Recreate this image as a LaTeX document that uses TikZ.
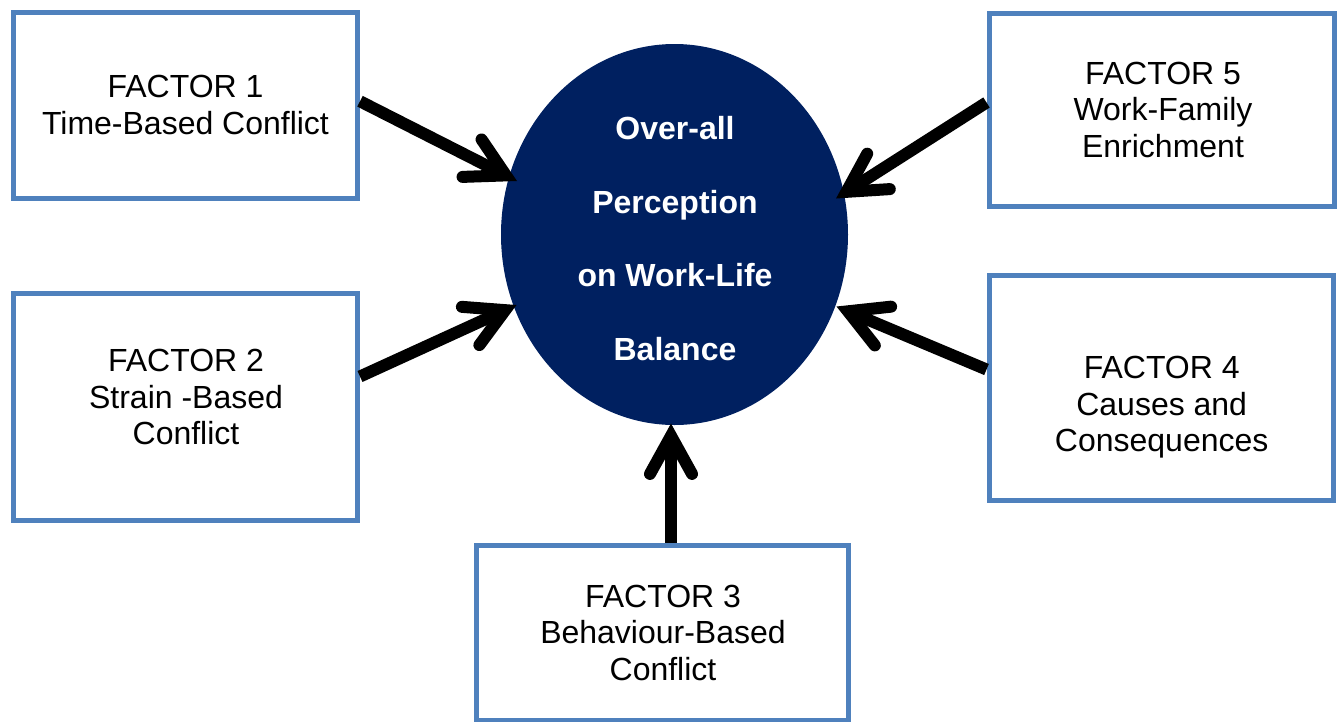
\documentclass[tikz,border=0pt]{standalone}
\usepackage{fontspec}
\setmainfont{Liberation Sans}
\usetikzlibrary{arrows.meta,calc,shapes.geometric}

\definecolor{boxblue}{RGB}{79,129,189}
\definecolor{navy}{RGB}{0,32,96}

\tikzset{
  factorbox/.style={draw=boxblue, line width=5pt, fill=white, rectangle, inner sep=0pt},
  factortext/.style={anchor=north, align=center, inner sep=0pt,
    font=\fontsize{32}{36.5}\selectfont},
  centretext/.style={anchor=north, align=center, inner sep=0pt, text=white,
    font=\fontsize{32}{73.5}\selectfont\bfseries},
  influence/.style={line width=12pt, black,
    -{Straight Barb[length=38pt, width=42pt, line cap=round, line join=miter]}}
}

\begin{document}
\begin{tikzpicture}[x=1pt, y=-1pt]
  \useasboundingbox (0,0) rectangle (1342,721);

  % factor boxes
  \node[factorbox, minimum width=344.5pt, minimum height=185.5pt] (f1) at (185.25,105.25) {};
  \node[factorbox, minimum width=344.5pt, minimum height=227pt] (f2) at (185.25,406.5) {};
  \node[factorbox, minimum width=372pt, minimum height=175pt] (f3) at (662.5,632.5) {};
  \node[factorbox, minimum width=344pt, minimum height=225pt] (f4) at (1161,387.5) {};
  \node[factorbox, minimum width=345pt, minimum height=193pt] (f5) at (1161.5,109.5) {};

  % box texts
  \node[factortext] (t1) at (185.5,75) {FACTOR 1\\Time-Based Conflict};
  \node[factortext] (t2) at (186,349) {FACTOR 2\\Strain -Based\\Conflict};
  \node[factortext] (t3) at (663,584.7) {FACTOR 3\\Behaviour-Based\\Conflict};
  \node[factortext] (t4) at (1161.7,356.3) {FACTOR 4\\Causes and\\Consequences};
  \node[factortext] (t5) at (1163,61.5) {FACTOR 5\\Work-Family\\Enrichment};

  % central ellipse
  \node[ellipse, fill=navy, inner sep=0pt, minimum width=347pt, minimum height=381pt] (ov) at (674.5,234.5) {};
  \node[centretext] (tc) at (675,116.5) {Over-all\\Perception\\on Work-Life\\Balance};

  % arrows into the ellipse
  \draw[influence] ([yshift=4pt]f1.east) -- ($(ov.center)+(-157.5,-53.5)$);
  \draw[influence] ([yshift=30pt]f2.east) -- ($(ov.center)+(-158,70.5)$);
  \draw[influence] ([xshift=8.5pt]f3.north) -- ($(ov.center)+(-3.5,189)$);
  \draw[influence] ([yshift=18pt]f4.west) -- ($(ov.center)+(162,72)$);
  \draw[influence] ([yshift=7pt]f5.west) -- ($(ov.center)+(161.5,-36)$);
\end{tikzpicture}
\end{document}
